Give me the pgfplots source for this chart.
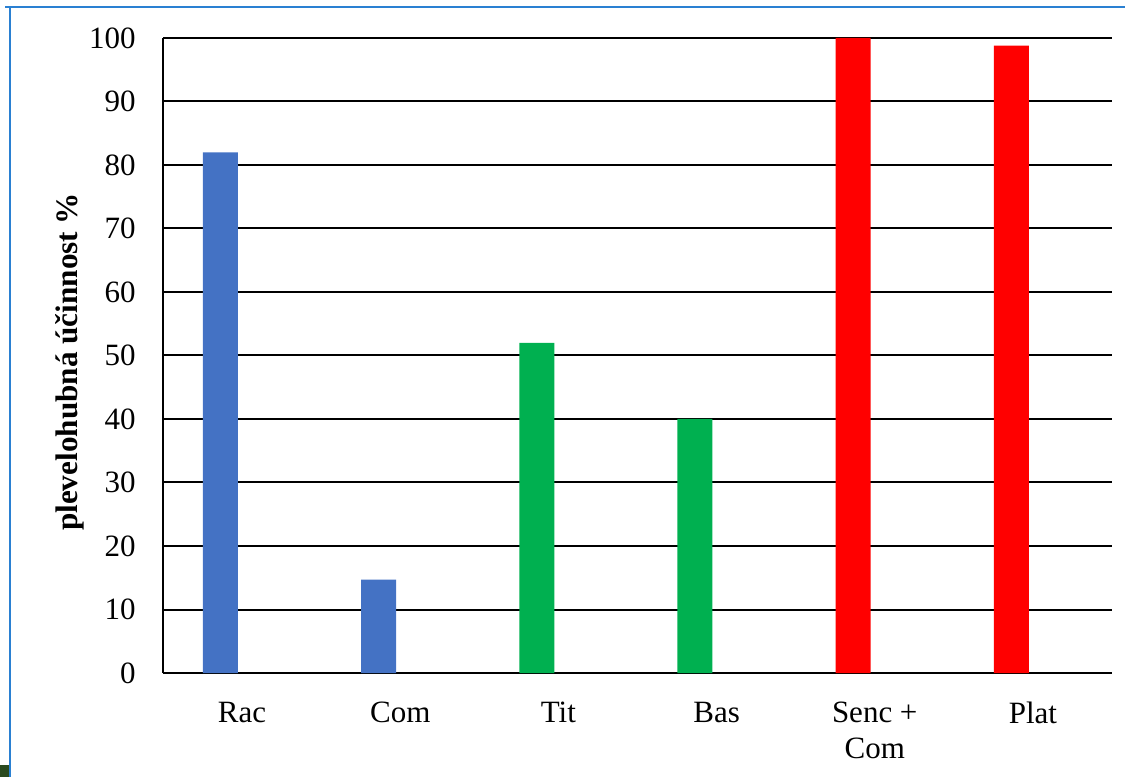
\documentclass[border=0pt]{standalone}
\usepackage{pgfplots}
\pgfplotsset{compat=1.18}
\usepackage{fontspec}
\setmainfont{Liberation Serif}
\definecolor{barblue}{HTML}{4472C4}
\definecolor{bargreen}{HTML}{00B050}
\definecolor{barred}{HTML}{FF0000}
\definecolor{frameblue}{HTML}{2A80D2}
\definecolor{cornergreen}{HTML}{2B4A1E}
\begin{document}
\begin{tikzpicture}[x=0.5pt,y=0.5pt]
\path[use as bounding box] (0,0) rectangle (1125,777);
% slide frame
\draw[frameblue, line width=1.1pt] (5,770) -- (1125,770);
\draw[frameblue, line width=1.1pt] (10,770) -- (10,0);
\fill[cornergreen] (0,0) rectangle (9,12);
\begin{axis}[
  at={(81.5pt,52pt)}, anchor=south west,
  scale only axis, width=474.5pt, height=317.5pt,
  xmin=0, xmax=6, ymin=0, ymax=100,
  ytick={0,10,...,100},
  xtick={0.5,1.5,...,5.5},
  xticklabels={Rac,Com,Tit,Bas,{Senc +\\Com},Plat},
  axis x line*=bottom, axis y line*=left,
  axis line style={black, line width=1pt},
  ymajorgrids, grid style={black, line width=1pt},
  major tick length=0pt,
  tick label style={font=\fontsize{15.5}{18}\selectfont},
  /pgf/number format/assume math mode=true,
  yticklabel style={inner sep=0pt, xshift=-13.5pt},
  xticklabel style={align=center, inner sep=0pt, yshift=-14.5pt},
  ylabel={plevelohubná účinnost \%},
  ylabel style={font=\fontsize{15.6}{18}\selectfont\bfseries,
    at={(axis description cs:-0.098,0.49)}, anchor=center},
]
\addplot[ybar, bar shift=0pt, bar width=17.5pt, fill=barblue, draw=none]
  coordinates {(0.3635,82) (1.3635,14.7)};
\addplot[ybar, bar shift=0pt, bar width=17.5pt, fill=bargreen, draw=none]
  coordinates {(2.3635,52) (3.3635,40)};
\addplot[ybar, bar shift=0pt, bar width=17.5pt, fill=barred, draw=none]
  coordinates {(4.3635,100) (5.3635,98.8)};
\end{axis}
\end{tikzpicture}
\end{document}
